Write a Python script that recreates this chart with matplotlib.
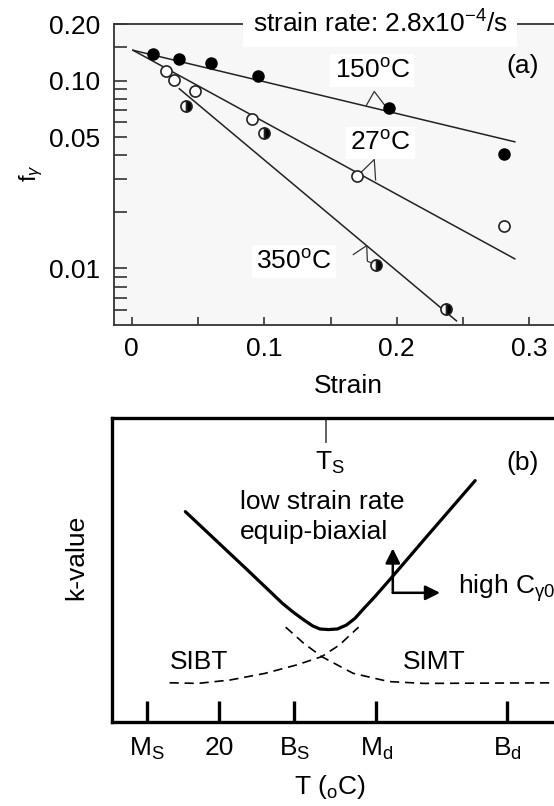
"""Retained austenite vs strain (a) and k-value vs temperature sketch (b)."""
import matplotlib
matplotlib.use("Agg")
import matplotlib.pyplot as plt
from matplotlib.ticker import FixedLocator, NullFormatter

plt.rcParams["font.family"] = ["Liberation Sans", "DejaVu Sans"]
plt.rcParams["mathtext.fontset"] = "custom"
plt.rcParams["mathtext.rm"] = "Liberation Sans"
plt.rcParams["mathtext.it"] = "Liberation Sans:italic"
plt.rcParams["mathtext.bf"] = "Liberation Sans:bold"

FS = 19

# ---- panel (a) data ----
STRAIN_150 = [0.016, 0.036, 0.060, 0.095, 0.194, 0.281]
FG_150 = [0.139, 0.130, 0.1245, 0.106, 0.0714, 0.0407]
STRAIN_27 = [0.026, 0.032, 0.048, 0.091, 0.170, 0.281]
FG_27 = [0.112, 0.101, 0.0878, 0.0627, 0.0312, 0.0169]
STRAIN_350 = [0.041, 0.100, 0.184, 0.237]
FG_350 = [0.0731, 0.0529, 0.01046, 0.00607]

# fitted lines (start, end)
FIT_150_X = [0.001, 0.289]
FIT_150_Y = [0.145, 0.0472]
FIT_27_X = [0.001, 0.289]
FIT_27_Y = [0.145, 0.01125]
FIT_350_X = [0.036, 0.245]
FIT_350_Y = [0.0904, 0.00526]

# little leader flags from the labels to the lines
FLAG_150_X = [0.177, 0.183, 0.191]
FLAG_150_Y = [0.0737, 0.0875, 0.0737]
FLAG_27_X = [0.1735, 0.183, 0.184]
FLAG_27_Y = [0.0327, 0.0380, 0.0296]
FLAG_350_X = [0.1672, 0.1773, 0.1778, 0.1823]
FLAG_350_Y = [0.01186, 0.01323, 0.01093, 0.01059]

X_MAJOR = [0, 0.1, 0.2, 0.3]
X_MAJOR_LABELS = ["0", "0.1", "0.2", "0.3"]
X_MINOR = [0.05, 0.15, 0.25]
Y_MAJOR = [0.2, 0.1, 0.05, 0.01]
Y_MAJOR_LABELS = ["0.20", "0.10", "0.05", "0.01"]
Y_MINOR = [0.15, 0.09, 0.08, 0.07, 0.06, 0.04, 0.03, 0.02,
           0.009, 0.008, 0.007, 0.006]

# ---- panel (b) schematic data ----
K_TOTAL_T = [16.3, 22.2, 30.1, 37.9, 40.3, 42.6, 44.6, 46.2, 48.1, 50.1,
             52.1, 54.0, 56.0, 58.4, 62.3, 69.3, 80.7]
K_TOTAL = [6.92, 6.10, 5.00, 3.90, 3.61, 3.36, 3.16, 3.06, 3.04, 3.06,
           3.19, 3.41, 3.74, 4.12, 4.78, 5.99, 7.94]
K_SIBT_T = [12.8, 19.1, 26.2, 34.0, 41.1, 46.6, 50.5, 54.8]
K_SIBT = [1.29, 1.27, 1.38, 1.60, 1.88, 2.15, 2.53, 3.12]
K_SIMT_T = [38.6, 42.6, 46.6, 53.6, 61.5, 69.3, 100.0]
K_SIMT = [3.12, 2.59, 2.15, 1.60, 1.33, 1.27, 1.29]

T_TICKS = [7.8, 23.8, 40.5, 58.7, 87.8]
T_TICK_LABELS = [r"M$_{\mathrm{S}}$", "20", r"B$_{\mathrm{S}}$",
                 r"M$_{\mathrm{d}}$", r"B$_{\mathrm{d}}$"]
T_S = 47.6
ARROW_CORNER = (62.4, 4.25)
ARROW_UP = (62.4, 5.71)
ARROW_RIGHT = (72.9, 4.25)


def draw_top(ax):
    """panel (a): f_gamma vs strain, log scale."""
    ax.set_facecolor("#f7f7f7")
    ax.set_yscale("log")
    ax.set_xlim(-0.0133, 0.3246)
    ax.set_ylim(0.005, 0.2)

    for fx, fy in [(FIT_150_X, FIT_150_Y), (FIT_27_X, FIT_27_Y), (FIT_350_X, FIT_350_Y)]:
        ax.plot(fx, fy, color="#222222", lw=1.1, zorder=2)
    for fx, fy in [(FLAG_150_X, FLAG_150_Y), (FLAG_27_X, FLAG_27_Y), (FLAG_350_X, FLAG_350_Y)]:
        ax.plot(fx, fy, color="#333333", lw=0.9, zorder=2)

    ax.plot(STRAIN_150, FG_150, "o", ms=8, mfc="black", mec="black", zorder=3)
    ax.plot(STRAIN_27, FG_27, "o", ms=8, mfc="white", mec="#222222", mew=1.2, zorder=3)
    ax.plot(STRAIN_350, FG_350, "o", ms=8, fillstyle="right", mfc="black",
            mfcalt="white", mec="#222222", mew=1.2, zorder=3)

    box = dict(facecolor="white", edgecolor="none", pad=3)
    ax.text(0.1815, 0.1129, r"150$^{\mathrm{o}}$C", fontsize=FS, ha="center", va="center", bbox=box)
    ax.text(0.1874, 0.0464, r"27$^{\mathrm{o}}$C", fontsize=FS, ha="center", va="center", bbox=box)
    ax.text(0.1225, 0.0109, r"350$^{\mathrm{o}}$C", fontsize=FS, ha="center", va="center", bbox=box)
    ax.text(0.2952, 0.120, "(a)", fontsize=FS, ha="center", va="center")
    ax.text(0.1873, 0.2, r"strain rate: 2.8x10$^{-4}$/s", fontsize=FS, ha="center",
            va="center", bbox=dict(facecolor="white", edgecolor="none", pad=7), zorder=5,
            clip_on=False)

    ax.xaxis.set_major_locator(FixedLocator(X_MAJOR))
    ax.set_xticklabels(X_MAJOR_LABELS)
    ax.xaxis.set_minor_locator(FixedLocator(X_MINOR))
    ax.yaxis.set_major_locator(FixedLocator(Y_MAJOR))
    ax.set_yticklabels(Y_MAJOR_LABELS)
    ax.yaxis.set_minor_locator(FixedLocator(Y_MINOR))
    ax.yaxis.set_minor_formatter(NullFormatter())
    ax.tick_params(axis="x", which="both", direction="in", length=6, width=1.2,
                   labelsize=FS, pad=9, color="#333333")
    ax.tick_params(axis="y", which="both", direction="in", length=9, width=1.2,
                   labelsize=FS, pad=10, color="#333333")
    for side in ["left", "bottom", "top"]:
        ax.spines[side].set_color("#333333")
        ax.spines[side].set_linewidth(1.3)
    ax.spines["right"].set_visible(False)

    ax.set_xlabel("Strain", fontsize=FS)
    ax.xaxis.set_label_coords(0.522, -0.163)
    ax.set_ylabel(r"f$_{\gamma}$", fontsize=17)
    ax.yaxis.set_label_coords(-0.155, 0.505)


def draw_bottom(ax):
    """panel (b): schematic k-value vs temperature."""
    ax.set_xlim(0, 100)
    ax.set_ylim(0, 10)

    ax.plot(K_TOTAL_T, K_TOTAL, color="black", lw=2.3, solid_capstyle="round",
            solid_joinstyle="round")
    ax.plot(K_SIBT_T, K_SIBT, color="black", lw=1.2, dashes=(5.5, 3.5))
    ax.plot(K_SIMT_T, K_SIMT, color="black", lw=1.2, dashes=(5.5, 3.5))

    # T_S marker hanging from the top spine
    ax.plot([T_S, T_S], [10, 9.2], color="#555555", lw=1.3)
    ax.text(T_S + 0.8, 8.52, r"T$_{\mathrm{S}}$", fontsize=FS, ha="center", va="center")
    ax.text(91.3, 8.52, "(b)", fontsize=FS, ha="center", va="center")
    ax.text(28.4, 7.24, "low strain rate", fontsize=FS, ha="left", va="center")
    ax.text(28.4, 6.25, "equip-biaxial", fontsize=FS, ha="left", va="center")
    ax.text(19.3, 1.97, "SIBT", fontsize=FS, ha="center", va="center")
    ax.text(71.7, 1.97, "SIMT", fontsize=FS, ha="center", va="center")
    ax.text(76.8, 4.41, r"high C$_{\mathrm{\gamma0}}$", fontsize=FS, ha="left", va="center")

    arrow = dict(arrowstyle="-|>", lw=1.8, color="black", mutation_scale=22,
                 shrinkA=0, shrinkB=0)
    ax.annotate("", xy=ARROW_UP, xytext=ARROW_CORNER, arrowprops=arrow)
    ax.annotate("", xy=ARROW_RIGHT, xytext=ARROW_CORNER, arrowprops=arrow)

    ax.set_xticks(T_TICKS)
    ax.set_xticklabels(T_TICK_LABELS)
    ax.set_yticks([])
    ax.tick_params(axis="x", direction="in", length=15, width=2.4, labelsize=FS, pad=10)
    for side in ["left", "bottom", "top"]:
        ax.spines[side].set_linewidth(2.4)
    ax.spines["right"].set_visible(False)

    ax.set_xlabel(r"T ($_{\mathrm{o}}$C)", fontsize=FS)
    ax.xaxis.set_label_coords(0.484, -0.168)
    ax.set_ylabel("k-value", fontsize=FS)
    ax.yaxis.set_label_coords(-0.053, 0.543)


if __name__ == "__main__":
    W, H = 554, 806
    fig = plt.figure(figsize=(W / 100, H / 100), dpi=100)
    ax_a = fig.add_axes([114 / W, (H - 325) / H, (562 - 114) / W, 301 / H])
    ax_b = fig.add_axes([112 / W, (H - 722) / H, (562 - 112) / W, 304 / H])
    draw_top(ax_a)
    draw_bottom(ax_b)
    fig.savefig("out.png", dpi=100)
